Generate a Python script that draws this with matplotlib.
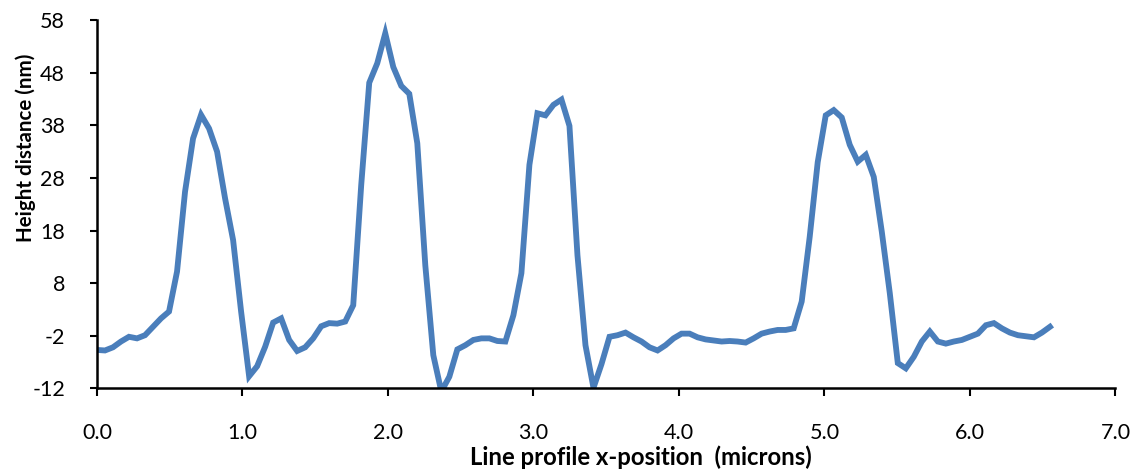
import numpy as np
import matplotlib.pyplot as plt

# line profile heights (nm), sampled every ~0.055 microns
step = 0.05504
height = [
    -4.7, -4.8, -4.2, -3.1, -2.2, -2.5, -1.9, -0.3, 1.3, 2.6,
    10.2, 25.4, 35.5, 40.0, 37.4, 33.0, 24.1, 16.2, 2.6, -9.7,
    -7.8, -4.1, 0.5, 1.3, -2.8, -4.9, -4.2, -2.5, -0.2, 0.4,
    0.3, 0.7, 3.8, 26.7, 46.1, 49.8, 55.5, 49.1, 45.5, 44.0,
    34.6, 11.4, -5.7, -12.6, -9.8, -4.6, -3.8, -2.8, -2.5, -2.5,
    -3.0, -3.1, 1.9, 9.9, 30.5, 40.3, 39.9, 41.9, 42.9, 37.9,
    13.3, -3.8, -11.9, -7.4, -2.2, -1.9, -1.4, -2.3, -3.1, -4.2,
    -4.8, -3.8, -2.5, -1.6, -1.6, -2.3, -2.7, -2.9, -3.1, -3.0,
    -3.1, -3.3, -2.5, -1.6, -1.2, -0.9, -0.9, -0.6, 4.5, 16.8,
    31.0, 39.9, 40.9, 39.5, 34.3, 31.1, 32.4, 28.2, 17.8, 6.1,
    -7.2, -8.2, -6.0, -3.1, -1.2, -3.1, -3.5, -3.1, -2.8, -2.2,
    -1.6, 0.0, 0.4, -0.6, -1.4, -1.9, -2.1, -2.3, -1.4, -0.3,
]
xpos = np.arange(len(height)) * step

xticks = [0, 1, 2, 3, 4, 5, 6, 7]
yticks = [-12, -2, 8, 18, 28, 38, 48, 58]

plt.rcParams['font.family'] = ['Lato', 'DejaVu Sans']
plt.rcParams['axes.unicode_minus'] = False

fig = plt.figure(figsize=(11.38, 4.69), dpi=100)
ax = fig.add_axes([0.0852, 0.172, 0.8950, 0.785])

ax.plot(xpos, height, color='#4A7EBB', linewidth=4.2, solid_joinstyle='miter')

ax.set_xlim(0, 7)
ax.set_ylim(-12, 58)
ax.set_xticks(xticks)
ax.set_xticklabels(['%.1f' % t for t in xticks])
ax.set_yticks(yticks)

for s in ['top', 'right']:
    ax.spines[s].set_visible(False)
for s in ['left', 'bottom']:
    ax.spines[s].set_linewidth(1.8)

ax.tick_params(axis='x', direction='out', length=6, width=1.5, pad=19, labelsize=15.5)
ax.tick_params(axis='y', direction='out', length=5, width=1.5, pad=18, labelsize=15.5)

ax.set_xlabel('Line profile x-position  (microns)', fontsize=17.2, fontweight='bold')
ax.set_ylabel('Height distance (nm)', fontsize=14.8, fontweight='bold')
ax.xaxis.set_label_coords(0.534, -0.155)
ax.yaxis.set_label_coords(-0.060, 0.652)

fig.savefig('out.png', dpi=100)
